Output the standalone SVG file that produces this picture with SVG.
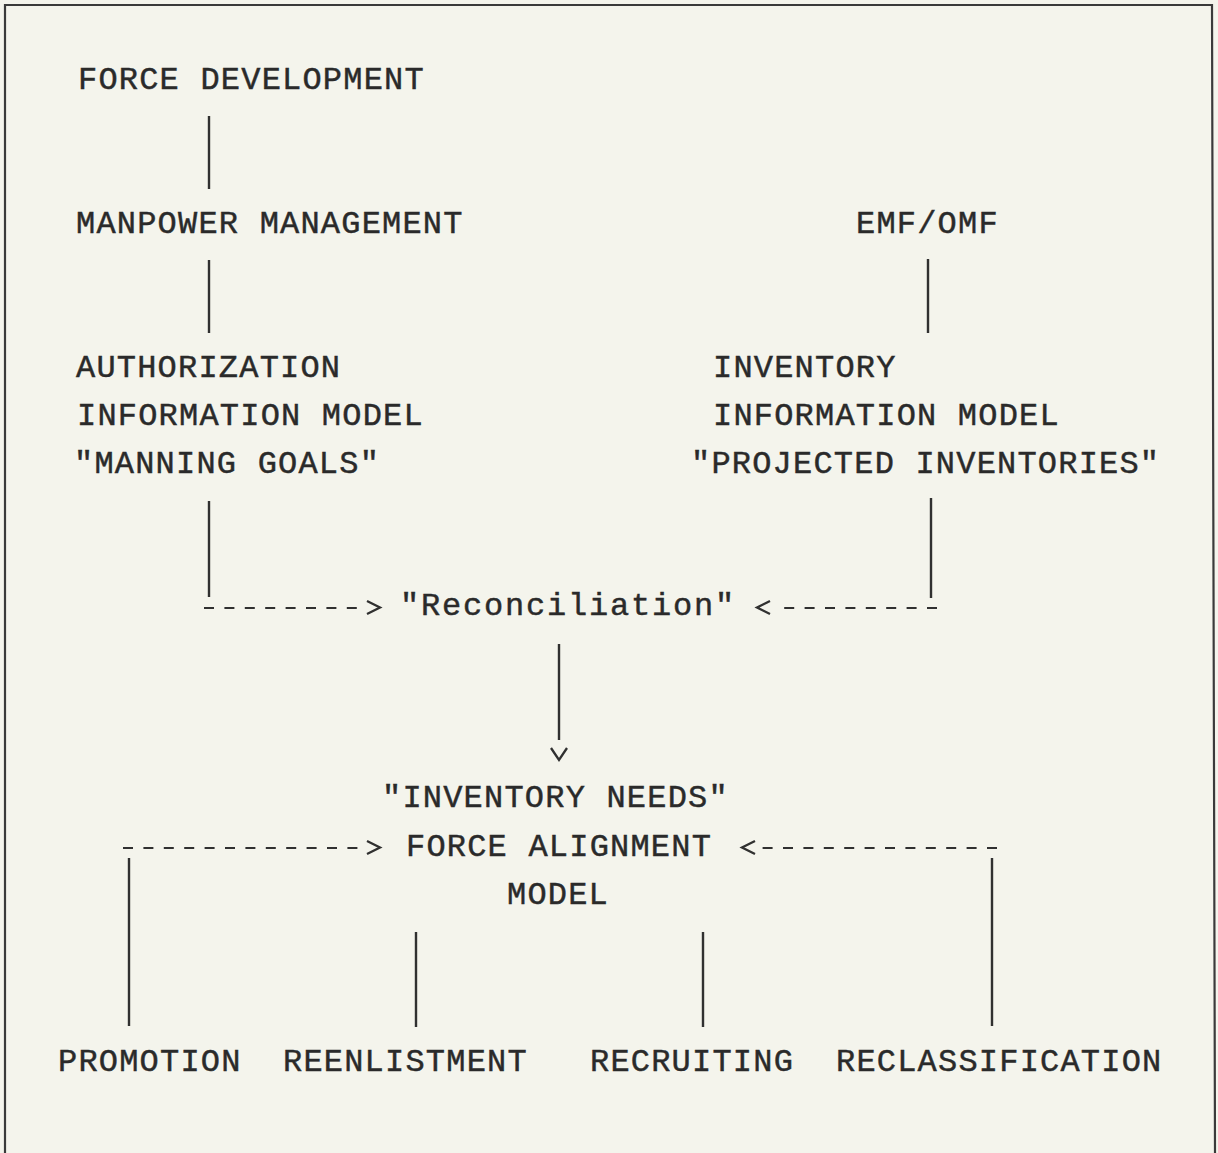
<svg xmlns="http://www.w3.org/2000/svg" width="1218" height="1153" viewBox="0 0 1218 1153">
  <defs>
    <style>
      .t { font-family: "Liberation Mono", "DejaVu Sans Mono", monospace; font-size: 32px; letter-spacing: 1.2px; fill: #2a2a2a; stroke: #2a2a2a; stroke-width: 0.45px; }
      .ln { stroke: #303030; stroke-width: 2.4; fill: none; stroke-linecap: butt; }
      .dash { stroke: #303030; stroke-width: 2.2; fill: none; stroke-dasharray: 10 10.4; }
      .head { stroke: #303030; stroke-width: 2.3; fill: none; stroke-linejoin: miter; }
      .frame { stroke: #3a3a3a; stroke-width: 2.2; fill: none; }
    </style>
  </defs>

  <!-- paper -->
  <rect x="0" y="0" width="1218" height="1153" fill="#f4f4ec"/>
  <path class="frame" d="M5,1153 V5 H1212 L1215,1153"/>

  <!-- text blocks -->
  <g id="force-development">
    <text class="t" x="78" y="89">FORCE DEVELOPMENT</text>
  </g>
  <g id="manpower-management">
    <text class="t" x="76" y="233">MANPOWER MANAGEMENT</text>
  </g>
  <g id="emf-omf">
    <text class="t" x="856" y="233">EMF/OMF</text>
  </g>
  <g id="authorization-model">
    <text class="t" x="76" y="377">AUTHORIZATION</text>
    <text class="t" x="77" y="425">INFORMATION MODEL</text>
    <text class="t" x="74" y="473">"MANNING GOALS"</text>
  </g>
  <g id="inventory-model">
    <text class="t" x="713" y="377">INVENTORY</text>
    <text class="t" x="713" y="425">INFORMATION MODEL</text>
    <text class="t" x="691" y="473">"PROJECTED INVENTORIES"</text>
  </g>
  <g id="reconciliation">
    <text class="t" x="400" y="615" style="letter-spacing:1.8px">"Reconciliation"</text>
  </g>
  <g id="force-alignment-model">
    <text class="t" x="382" y="807">"INVENTORY NEEDS"</text>
    <text class="t" x="406" y="856">FORCE ALIGNMENT</text>
    <text class="t" x="507" y="904">MODEL</text>
  </g>
  <g id="promotion">
    <text class="t" x="58" y="1071">PROMOTION</text>
  </g>
  <g id="reenlistment">
    <text class="t" x="283" y="1071">REENLISTMENT</text>
  </g>
  <g id="recruiting">
    <text class="t" x="590" y="1071">RECRUITING</text>
  </g>
  <g id="reclassification">
    <text class="t" x="836" y="1071">RECLASSIFICATION</text>
  </g>

  <!-- connectors -->
  <g id="connectors">
    <line class="ln" x1="209" y1="116" x2="209" y2="189"/>
    <line class="ln" x1="209" y1="260" x2="209" y2="333"/>
    <line class="ln" x1="928" y1="259" x2="928" y2="333"/>

    <!-- into reconciliation -->
    <line class="ln" x1="209" y1="501" x2="209" y2="597"/>
    <line class="dash" x1="204" y1="608" x2="357" y2="608"/>
    <polyline class="head" points="367,601 380,607.5 367,614"/>
    <line class="ln" x1="931" y1="498" x2="931" y2="598"/>
    <line class="dash" x1="937" y1="608" x2="784" y2="608"/>
    <polyline class="head" points="770,601 757,607.5 770,614"/>

    <!-- reconciliation down to inventory needs -->
    <line class="ln" x1="559" y1="644" x2="559" y2="740"/>
    <polyline class="head" points="551,748 559,760 567,748"/>

    <!-- feeds into force alignment -->
    <line class="dash" x1="123" y1="848" x2="358" y2="848"/>
    <polyline class="head" points="367,841 380,847.5 367,854"/>
    <line class="dash" x1="997" y1="848" x2="762" y2="848"/>
    <polyline class="head" points="755,841 742,847.5 755,854"/>
    <line class="ln" x1="129" y1="858" x2="129" y2="1026"/>
    <line class="ln" x1="992" y1="858" x2="992" y2="1026"/>
    <line class="ln" x1="416" y1="932" x2="416" y2="1027"/>
    <line class="ln" x1="703" y1="932" x2="703" y2="1027"/>
  </g>
</svg>
